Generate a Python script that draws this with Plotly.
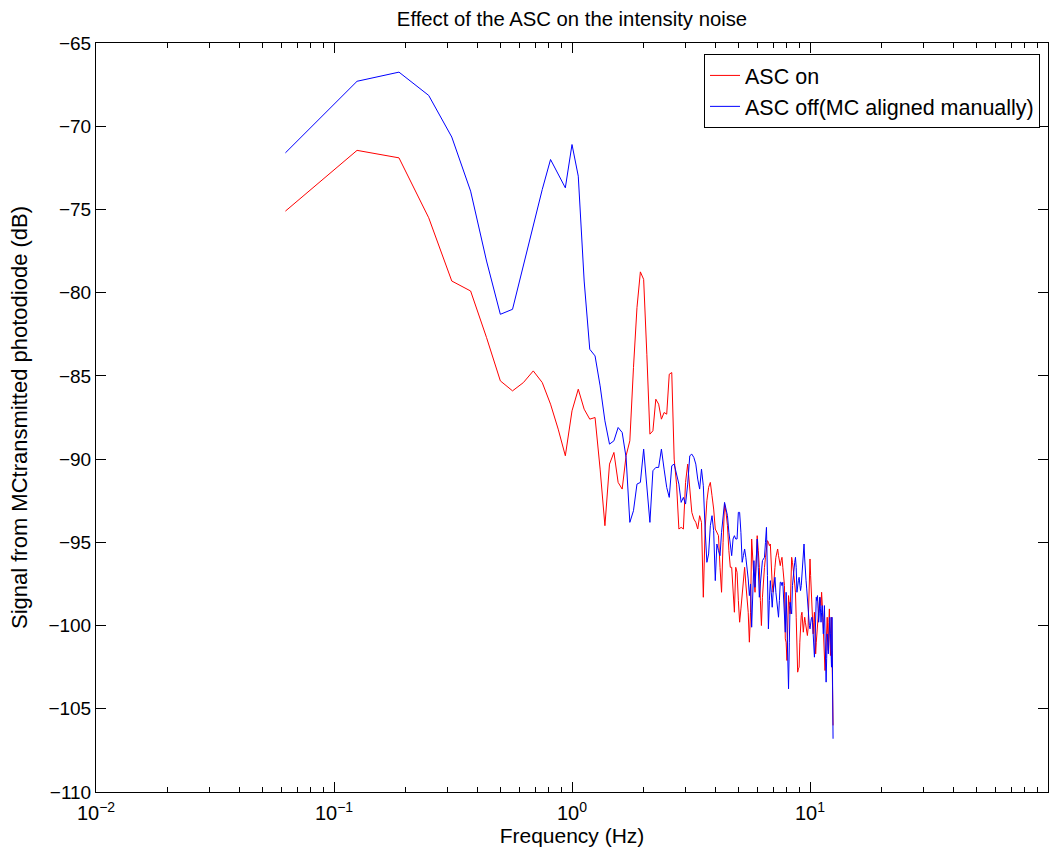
# Effect of the ASC on the intensity noise - spectrum of the MC transmitted PD
import plotly.graph_objects as go

# Data
# -------------------------------------------------------------------------
# frequency bins are 1/16 Hz apart, 200 bins
df_hz = 0.0625
freq = [k * df_hz for k in range(1, 201)]

asc_on = [
    -75.1, -71.45, -71.9, -75.5, -79.3, -79.9, -82.7, -85.3, -85.9, -85.4,
    -84.7, -85.4, -86.7, -88.2, -89.8, -87.1, -85.8, -87.0, -87.6, -87.5,
    -90.6, -94.0, -90.3, -89.6, -91.4, -91.8, -89.8, -88.9, -84.5, -80.9,
    -78.75, -79.2, -83.7, -88.5, -88.3, -86.4, -86.7, -87.6, -87.2, -87.3,
    -84.9, -84.8, -90.0, -91.5, -94.2, -94.1, -94.2, -91.4, -90.3, -92.0,
    -93.2, -93.6, -93.8, -94.2, -93.4, -93.8, -98.3, -94.2, -92.5, -91.7,
    -91.4, -92.2, -93.0, -94.2, -94.4, -94.6, -96.5, -98.0, -95.0, -92.7,
    -93.2, -94.0, -95.5, -96.5, -96.5, -98.0, -99.2, -96.5, -96.8, -98.5,
    -99.8, -99.0, -98.0, -97.0, -96.5, -97.5, -98.5, -99.2, -101.0, -99.2,
    -94.8, -96.4, -97.2, -98.0, -96.0, -94.6, -95.5, -96.5, -98.5, -100.0,
    -98.3, -97.0, -96.5, -95.9, -95.3, -94.9, -95.0, -95.2, -95.1, -96.5,
    -97.5, -98.0, -97.0, -96.5, -95.9, -95.6, -95.4, -95.8, -96.2, -96.4,
    -96.1, -95.9, -96.5, -97.2, -97.6, -100.8, -101.0, -102.1, -100.0, -98.2,
    -98.8, -99.3, -97.5, -95.9, -96.2, -96.5, -97.0, -97.5, -98.0, -99.5,
    -101.5, -102.8, -102.6, -102.5, -101.0, -99.6, -99.4, -99.2, -99.8, -100.4,
    -99.9, -99.5, -99.8, -100.2, -100.4, -100.6, -100.2, -99.0, -97.5, -96.0,
    -97.0, -98.0, -98.9, -99.7, -100.5, -99.8, -99.2, -100.5, -101.7, -101.0,
    -100.4, -99.9, -99.5, -98.9, -98.6, -98.3, -98.5, -98.8, -98.0, -98.5,
    -99.3, -100.2, -101.1, -101.8, -102.7, -102.0, -101.0, -100.5, -99.5, -100.5,
    -101.5, -99.8, -99.0, -100.5, -101.8, -100.5, -99.5, -101.5, -103.7, -106.0,
]

asc_off = [
    -71.6, -67.3, -66.75, -68.15, -70.65, -73.9, -78.1, -81.3, -81.0, -78.3,
    -75.9, -73.8, -72.0, -72.9, -73.7, -71.1, -73.0, -79.3, -83.4, -83.8,
    -85.6, -87.7, -89.1, -88.9, -88.1, -88.4, -89.9, -93.8, -93.1, -91.5,
    -91.4, -89.4, -91.5, -93.8, -90.7, -90.5, -90.5, -89.4, -90.6, -91.7,
    -92.3, -90.4, -90.3, -91.0, -91.5, -92.6, -92.3, -92.7, -91.5, -89.8,
    -89.7, -89.9, -90.3, -91.2, -91.8, -90.6, -91.6, -94.2, -96.2, -95.7,
    -94.0, -93.4, -94.3, -97.3, -95.1, -95.5, -95.8, -94.4, -93.5, -92.6,
    -93.0, -93.4, -94.4, -95.0, -95.8, -94.8, -94.6, -94.8, -94.8, -93.2,
    -93.2, -94.4, -96.2, -95.8, -95.4, -95.9, -96.4, -97.2, -98.2, -97.5,
    -100.1, -98.0, -96.1, -97.7, -96.0, -94.8, -96.5, -98.3, -97.5, -96.5,
    -96.1, -96.0, -95.9, -95.0, -94.1, -97.0, -100.2, -98.5, -97.3, -98.0,
    -98.9, -98.0, -97.5, -97.1, -98.0, -98.6, -99.0, -99.5, -98.5, -97.4,
    -97.4, -97.6, -97.4, -98.5, -99.8, -100.4, -98.0, -100.5, -103.0, -103.8,
    -101.0, -98.6, -99.0, -99.3, -97.6, -97.0, -96.5, -96.2, -95.9, -96.5,
    -98.0, -97.5, -97.3, -97.1, -97.5, -97.9, -97.6, -96.8, -96.0, -95.4,
    -95.1, -96.0, -97.0, -97.3, -97.8, -98.5, -99.3, -99.6, -100.0, -100.2,
    -99.8, -99.6, -99.5, -99.8, -100.5, -101.2, -101.9, -101.0, -99.5, -98.3,
    -98.5, -98.2, -99.0, -99.8, -99.3, -98.3, -99.0, -99.8, -99.2, -98.8,
    -99.5, -100.5, -99.8, -98.8, -100.5, -102.0, -103.4, -102.0, -100.5, -101.0,
    -101.7, -101.0, -100.2, -99.5, -100.5, -101.5, -102.5, -99.5, -103.0, -106.8,
]

x_tickvals = [0.01, 0.1, 1, 10, 100]
x_ticktext = ['10<sup>\u22122</sup>', '10<sup>\u22121</sup>', '10<sup>0</sup>',
              '10<sup>1</sup>', '10<sup>2</sup>']
x_minor = [m * 10 ** e for e in range(-2, 2) for m in range(2, 10)]
y_tickvals = [-110, -105, -100, -95, -90, -85, -80, -75, -70, -65]

# Traces
# -------------------------------------------------------------------------
on_line = go.Scatter(x=freq, y=asc_on, mode='lines', name='ASC on',
                     line=dict(color='#ff0000', width=1))
off_line = go.Scatter(x=freq, y=asc_off, mode='lines',
                      name='ASC off(MC aligned manually)',
                      line=dict(color='#0000ff', width=1))

font = dict(family='Liberation Sans, Arial, sans-serif', size=19, color='black')

axis_common = dict(showline=True, linecolor='black', linewidth=1,
                   mirror='allticks', ticks='inside', ticklen=10,
                   tickcolor='black', showgrid=False, zeroline=False)

layout = go.Layout(
    width=1061, height=855,
    margin=dict(l=96, r=13, t=43, b=56),
    paper_bgcolor='white', plot_bgcolor='white',
    font=font,
    title=dict(text='Effect of the ASC on the intensity noise',
               x=0.5, xref='paper', y=0.978, yref='container',
               xanchor='center', yanchor='middle', font=dict(size=20.3)),
    xaxis=dict(type='log', range=[-2, 2], tickvals=x_tickvals,
               ticktext=x_ticktext, tickfont=dict(size=20),
               ticklabelstandoff=3,
               minor=dict(ticks='inside', ticklen=5, tickcolor='black',
                          tickvals=x_minor),
               title=dict(text='Frequency (Hz)', standoff=4,
                          font=dict(size=21)),
               **axis_common),
    yaxis=dict(range=[-110, -65], tickvals=y_tickvals,
               title=dict(text='Signal from MCtransmitted photodiode (dB)',
                          standoff=14, font=dict(size=22)),
               **axis_common),
    showlegend=True,
    legend=dict(x=0.9916, y=0.9854, xanchor='right', yanchor='top',
                bordercolor='black', borderwidth=1, bgcolor='white',
                font=dict(size=21.5), tracegroupgap=0),
)

fig = go.Figure(data=[on_line, off_line], layout=layout)
fig.write_html('out.html', config={'displayModeBar': False},
               post_script="document.body.style.margin='0';")
